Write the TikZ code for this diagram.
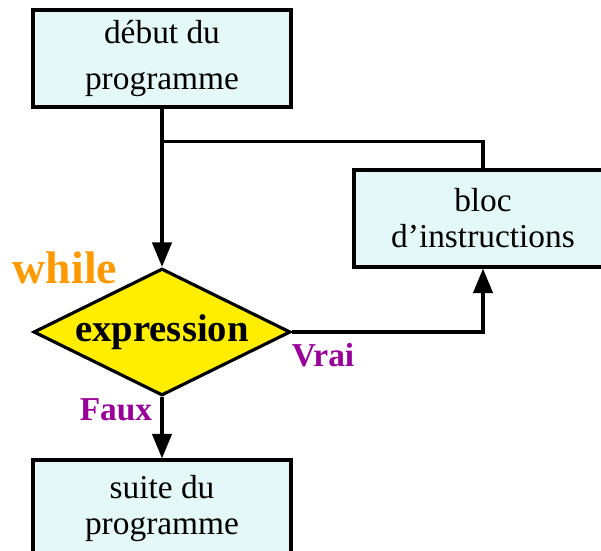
\documentclass[tikz,border=0pt]{standalone}
\usepackage{fontspec}
\setmainfont{Liberation Serif}
\usetikzlibrary{shapes.geometric,arrows.meta,calc}

\definecolor{boxfill}{RGB}{228,248,248}
\definecolor{condfill}{RGB}{255,238,0}
\definecolor{kworange}{RGB}{255,153,0}
\definecolor{lblpurple}{RGB}{153,0,153}

\tikzset{
  line/.style={line width=2pt, line join=miter, draw=black},
  arr/.style={line, -{Triangle[length=14pt,width=11pt]}},
  stepbox/.style={draw=black, line width=1.8pt, fill=boxfill,
    minimum width=5.16cm, minimum height=1.94cm, inner sep=0pt,
    align=center, font=\fontsize{19}{20.5}\selectfont},
  test/.style={diamond, draw=black, line width=1.8pt, fill=condfill,
    minimum width=5.14cm, minimum height=2.54cm, inner sep=0pt, aspect=2,
    font=\fontsize{22}{24}\selectfont\bfseries},
  tag/.style={font=\fontsize{19}{22}\selectfont\bfseries, text=lblpurple, inner sep=0pt}
}

\begin{document}
\begin{tikzpicture}
  \useasboundingbox (0,0) rectangle (12.02,-11.0);

  \node[stepbox] (debut) at (3.24,-1.17) {début du\\[6pt]programme};
  \node[stepbox] (bloc)  at (9.66,-4.37) {bloc\\d’instructions};
  \node[test]    (cond)  at (3.24,-6.64) {expression};
  \node[stepbox] (suite) at (3.24,-10.17) {suite du\\programme};

  \node[font=\fontsize{26}{28}\selectfont\bfseries, text=kworange, inner sep=0pt]
    (kw) at (1.30,-5.36) {while};
  \node[tag] (vrai) at (6.46,-7.10) {Vrai};
  \node[tag] (faux) at (2.32,-8.20) {Faux};

  \coordinate (j) at ($(debut.south)+(0,-0.66)$);

  \draw[arr] (debut.south) -- (cond.north);
  \draw[line] (j) -| (bloc.north);
  \draw[arr] (cond.east) -| (bloc.south);
  \draw[arr] (cond.south) -- (suite.north);
\end{tikzpicture}
\end{document}
